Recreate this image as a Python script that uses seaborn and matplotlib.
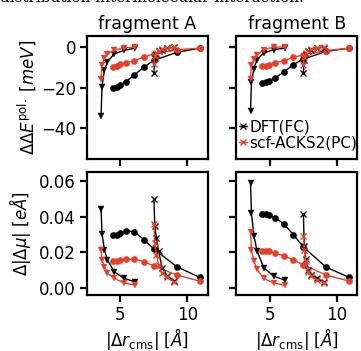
import numpy as np
import pandas as pd
import matplotlib
matplotlib.use("Agg")
import matplotlib.pyplot as plt
import seaborn as sns

# ---- data ----
x_tri = [3.55, 3.62, 3.80, 4.03, 4.53, 5.27, 6.10]
x_circ = [4.44, 4.72, 4.96, 5.40, 6.03, 6.75, 7.50, 9.20, 10.92]
x_x = [7.50, 7.56, 7.68, 7.85, 8.10, 8.50, 9.00]

# fragment A, energy
eA_dft_tri = [-34.3, -19.5, -11.4, -7.3, -3.3, -1.6, -0.5]
eA_acks_tri = [-16.0, -8.6, -5.4, -3.3, -1.6, -0.3, 0.0]
eA_dft_circ = [-20.0, -19.5, -18.9, -17.1, -13.8, -9.9, -6.5, -2.6, -0.5]
eA_acks_circ = [-9.8, -9.1, -8.5, -7.8, -6.7, -4.9, -3.3, -1.3, -0.5]
eA_dft_x = [-12.7, -5.5, -3.5, -2.1, -1.2, -0.5, -0.1]
eA_acks_x = [-8.5, -4.6, -3.0, -2.0, -1.0, -0.4, -0.1]

# fragment B, energy
eB_dft_tri = [-31.4, -17.3, -10.7, -6.2, -2.9, -1.3, -0.5]
eB_acks_tri = [-15.6, -8.6, -5.9, -3.8, -1.3, 0.0, 0.0]
eB_dft_circ = [-17.9, -17.3, -16.8, -15.1, -12.4, -8.6, -5.9, -2.1, -0.5]
eB_acks_circ = [-9.4, -9.1, -8.6, -7.8, -6.7, -5.1, -3.8, -1.7, -0.5]
eB_dft_x = [-12.6, -6.5, -3.5, -2.0, -1.2, -0.5, -0.2]
eB_acks_x = [-9.0, -5.0, -3.0, -1.8, -0.9, -0.3, 0.0]

# fragment A, dipole
dA_dft_tri = [0.0445, 0.0305, 0.0214, 0.0157, 0.0091, 0.0053, 0.0034]
dA_acks_tri = [0.0214, 0.0157, 0.0119, 0.0082, 0.0053, 0.0028, 0.0015]
dA_dft_circ = [0.0296, 0.0299, 0.0309, 0.0322, 0.0315, 0.0271, 0.0218, 0.0119, 0.0059]
dA_acks_circ = [0.0152, 0.0153, 0.0157, 0.0161, 0.0161, 0.0148, 0.0123, 0.0072, 0.0038]
dA_dft_x = [0.0498, 0.0350, 0.0280, 0.0205, 0.0114, 0.0066, 0.0040]
dA_acks_x = [0.0360, 0.0252, 0.0186, 0.0130, 0.0085, 0.0059, 0.0032]

# fragment B, dipole
dB_dft_tri = [0.0589, 0.0419, 0.0294, 0.0210, 0.0114, 0.0066, 0.0044]
dB_acks_tri = [0.0315, 0.0214, 0.0152, 0.0105, 0.0053, 0.0028, 0.0015]
dB_dft_circ = [0.0417, 0.0413, 0.0409, 0.0394, 0.0360, 0.0299, 0.0229, 0.0116, 0.0059]
dB_acks_circ = [0.0210, 0.0208, 0.0205, 0.0195, 0.0180, 0.0157, 0.0129, 0.0072, 0.0038]
dB_dft_x = [0.0413, 0.0233, 0.0161, 0.0100, 0.0072, 0.0053, 0.0034]
dB_acks_x = [0.0290, 0.0214, 0.0152, 0.0091, 0.0066, 0.0044, 0.0028]

titles = ["fragment A", "fragment B"]
labels = ["DFT(FC)", "scf-ACKS2(PC)"]

BLACK = "black"
RED = "#e5402b"

sns.set_theme(style="ticks")
plt.rcParams.update({
    "font.family": ["DejaVu Sans"],
    "font.size": 12,
    "text.color": "black",
    "axes.labelcolor": "black",
    "axes.edgecolor": "black",
    "xtick.color": "black",
    "ytick.color": "black",
    "axes.linewidth": 1.6,
    "xtick.major.width": 1.6,
    "ytick.major.width": 1.6,
    "xtick.major.size": 5,
    "ytick.major.size": 5,
    "xtick.major.pad": 3,
    "ytick.major.pad": 3,
    "xtick.labelsize": 12,
    "ytick.labelsize": 12,
    "axes.labelsize": 12,
    "axes.titlesize": 12.5,
    "mathtext.fontset": "dejavusans",
})

fig, axes = plt.subplots(2, 2, figsize=(3.61, 3.51), dpi=100, sharex=True, sharey="row")
fig.subplots_adjust(left=87/361, right=357/361, top=1-36/351, bottom=1-295/351,
                    wspace=0.24, hspace=0.10)

panels = {
    (0, 0): [(x_tri, eA_dft_tri, eA_acks_tri, "v"), (x_circ, eA_dft_circ, eA_acks_circ, "o"), (x_x, eA_dft_x, eA_acks_x, "x")],
    (0, 1): [(x_tri, eB_dft_tri, eB_acks_tri, "v"), (x_circ, eB_dft_circ, eB_acks_circ, "o"), (x_x, eB_dft_x, eB_acks_x, "x")],
    (1, 0): [(x_tri, dA_dft_tri, dA_acks_tri, "v"), (x_circ, dA_dft_circ, dA_acks_circ, "o"), (x_x, dA_dft_x, dA_acks_x, "x")],
    (1, 1): [(x_tri, dB_dft_tri, dB_acks_tri, "v"), (x_circ, dB_dft_circ, dB_acks_circ, "o"), (x_x, dB_dft_x, dB_acks_x, "x")],
}

for (r, c), series in panels.items():
    ax = axes[r, c]
    for xs, ydft, yacks, mk in series:
        for ys, col, lab in [(ydft, BLACK, labels[0]), (yacks, RED, labels[1])]:
            df = pd.DataFrame({"x": xs, "y": ys})
            sns.lineplot(data=df, x="x", y="y", ax=ax, color=col, marker=mk,
                         markersize=4.5 if mk != "x" else 4,
                         markeredgewidth=1.0 if mk == "x" else 0.3,
                         markeredgecolor=col, linewidth=1.0, sort=False,
                         estimator=None,
                         label=lab if (mk == "x") else None, legend=False)
    ax.set_xlabel("")
    ax.set_ylabel("")

for c in range(2):
    axes[0, c].set_title(titles[c], pad=5)
    axes[1, c].set_xlabel(r"$|\Delta r_{\mathrm{cms}}|$ $[\AA]$", labelpad=1)

axes[0, 0].set_ylabel(r"$\Delta\Delta E^{\mathrm{pol.}}$ $[meV]$", labelpad=2)
axes[1, 0].set_ylabel(r"$\Delta|\Delta\mu|$ $[e\AA]$", labelpad=4)

axes[0, 0].set_xlim(2.5, 11.5)
axes[0, 0].set_xticks([5, 10])
axes[0, 0].set_ylim(-55.5, 5.5)
axes[0, 0].set_yticks([0, -20, -40])
axes[1, 0].set_ylim(-0.004, 0.0653)
axes[1, 0].set_yticks([0.0, 0.02, 0.04, 0.06])
axes[1, 0].yaxis.set_major_formatter(matplotlib.ticker.FormatStrFormatter("%.2f"))

h, l = axes[0, 1].get_legend_handles_labels()
axes[0, 1].legend(h, l, loc="lower left", frameon=False, handlelength=0.5,
                  handletextpad=0.15, borderaxespad=0.0, borderpad=0.25,
                  labelspacing=0.05, fontsize=11, bbox_to_anchor=(-0.01, 0.04))

fig.text(0.0, 1 - 2.5/351, "distribution intermolecular interaction.", family="DejaVu Serif",
         fontsize=11, va="baseline", ha="left")

fig.savefig("out.png", dpi=100)
